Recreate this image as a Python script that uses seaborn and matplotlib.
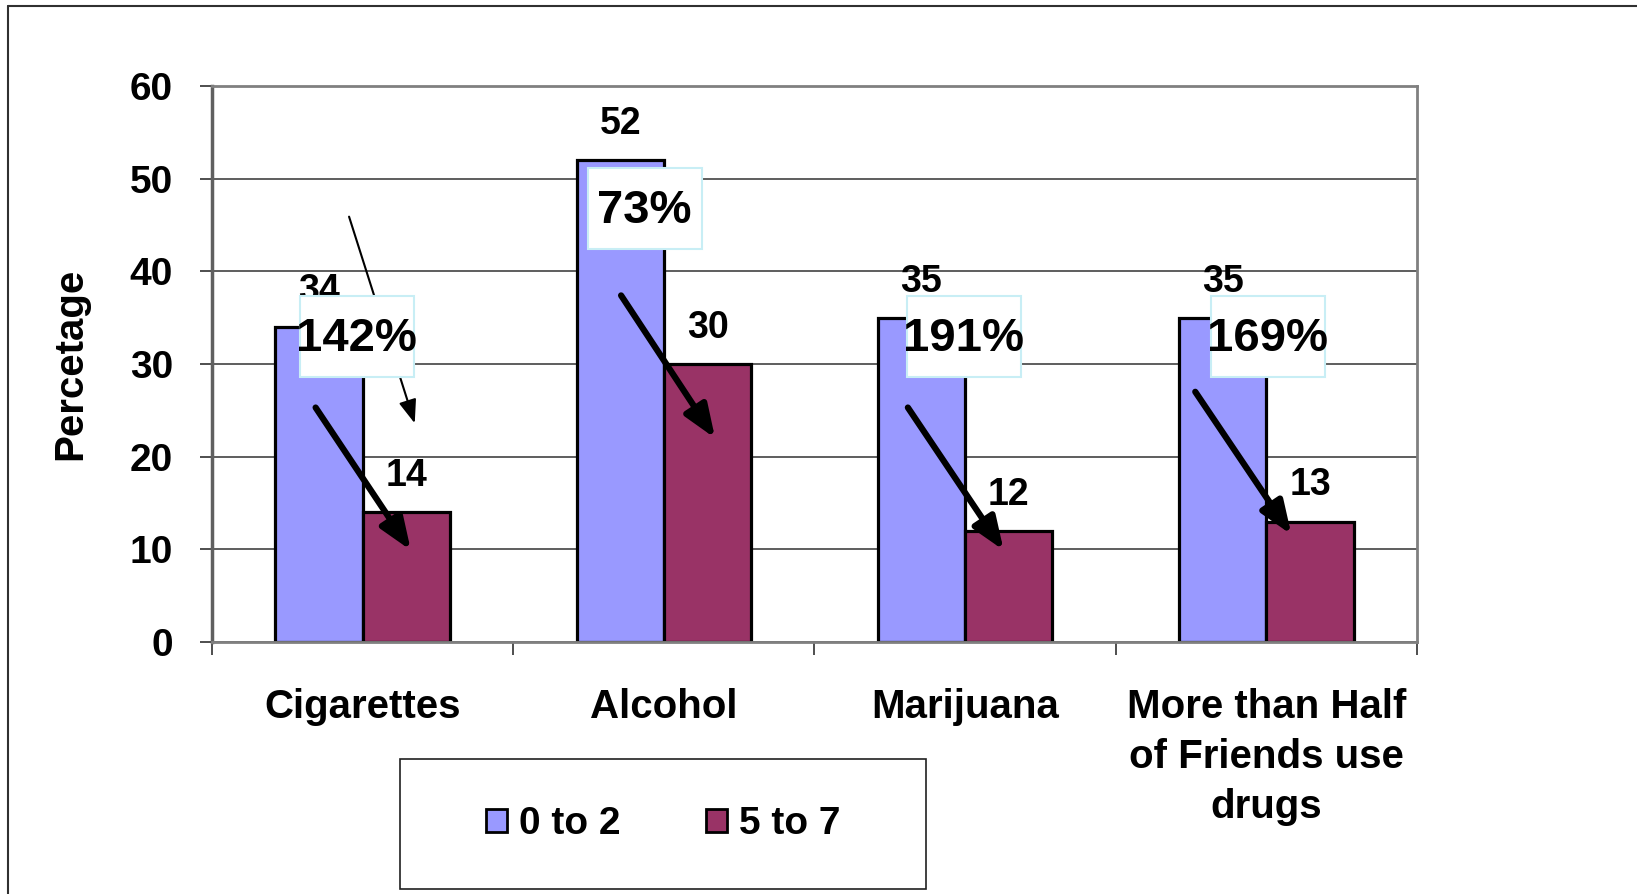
import matplotlib.pyplot as plt
import matplotlib.patches as mpatches
from matplotlib.lines import Line2D
import pandas as pd
import seaborn as sns


CATEGORIES = ["Cigarettes", "Alcohol", "Marijuana", "More than Half\nof Friends use\ndrugs"]
GROUPS = ["0 to 2", "5 to 7"]
LOW_VALUES = [34, 52, 35, 35]
HIGH_VALUES = [14, 30, 12, 13]
PCT_LABELS = ["142%", "73%", "191%", "169%"]
COLORS = ["#9999ff", "#993366"]

# call-out placement: (offset from category centre, y in data units)
PCT_POS = [(-0.02, 33.0), (-0.064, 46.8), (-0.004, 33.0), (0.005, 33.0)]
PCT_BOX = (0.378, 8.7)  # box width (category units), height (data units)
ARROW_START = [(-0.156, 25.3), (-0.142, 37.4), (-0.19, 25.3), (-0.236, 27.0)]
ARROW_END = [(0.16, 9.9), (0.17, 22.0), (0.128, 9.9), (0.083, 11.6)]
THIN_ARROW = [(-0.045, 45.9), (0.173, 23.6)]

FONT = "Liberation Sans"


def main() -> None:
  sns.set_style("white")
  plt.rcParams["font.family"] = [FONT, "DejaVu Sans"]
  plt.rcParams["text.color"] = "black"
  plt.rcParams["axes.labelcolor"] = "black"
  plt.rcParams["xtick.labelcolor"] = "black"
  plt.rcParams["ytick.labelcolor"] = "black"

  df = pd.DataFrame(
    {
      "category": CATEGORIES * 2,
      "group": [GROUPS[0]] * len(CATEGORIES) + [GROUPS[1]] * len(CATEGORIES),
      "value": LOW_VALUES + HIGH_VALUES,
    }
  )

  fig = plt.figure(figsize=(16.37, 8.94), dpi=100)
  ax = fig.add_axes([0.1295, 0.2819, 0.8656 - 0.1295, 0.9038 - 0.2819])

  sns.barplot(
    data=df,
    x="category",
    y="value",
    hue="group",
    order=CATEGORIES,
    hue_order=GROUPS,
    palette=COLORS,
    width=0.58,
    edgecolor="black",
    linewidth=2.3,
    saturation=1,
    legend=False,
    ax=ax,
  )

  for cont in ax.containers:
    ax.bar_label(cont, padding=13, fontsize=27, fontweight="bold", color="black", zorder=4)

  ax.set_ylim(0, 60)
  ax.set_xlim(-0.5, 3.5)
  ax.set_yticks(range(0, 61, 10))
  ax.set_axisbelow(True)
  ax.yaxis.grid(True, color="#505050", linewidth=1.3)
  ax.xaxis.grid(False)
  for side, sp in ax.spines.items():
    sp.set_visible(True)
    sp.set_color("#808080")
    sp.set_linewidth(2)
  ax.spines["left"].set_color("#606060")
  ax.spines["left"].set_linewidth(2.5)

  ax.tick_params(axis="y", direction="out", length=9, width=1.3, color="#404040",
                 labelsize=28, labelcolor="black", pad=19, left=True)
  for lbl in ax.get_yticklabels():
    lbl.set_fontweight("bold")

  ax.set_xticks(range(len(CATEGORIES)))
  ax.set_xticklabels(CATEGORIES, fontsize=29, fontweight="bold", linespacing=1.4,
                     color="black")
  ax.set_xticks([i - 0.5 for i in range(len(CATEGORIES) + 1)], minor=True)
  ax.tick_params(axis="x", which="major", length=0, pad=33)
  ax.tick_params(axis="x", which="minor", direction="out", length=9, width=1.3,
                 color="#404040", bottom=True)

  ax.set_xlabel("")
  ax.set_ylabel("Percetage", fontsize=29, fontweight="bold", labelpad=29, color="black")

  # percentage call-outs and arrows
  bw, bh = PCT_BOX
  for i, (lbl, (dx, y)) in enumerate(zip(PCT_LABELS, PCT_POS)):
    ax.add_patch(mpatches.Rectangle((i + dx - bw / 2, y - bh / 2), bw, bh,
                                    facecolor="white", edgecolor="#c8eef5", lw=1.5,
                                    zorder=5))
    ax.text(i + dx, y - 0.3, lbl, ha="center", va="center", fontsize=34,
            fontweight="bold", color="black", zorder=6)
  for i, ((sx, sy), (ex, ey)) in enumerate(zip(ARROW_START, ARROW_END)):
    ax.annotate("", xy=(i + ex, ey), xytext=(i + sx, sy), zorder=7,
                arrowprops=dict(arrowstyle="-|>,head_length=0.9,head_width=0.35",
                                lw=4.5, color="black", mutation_scale=22,
                                shrinkA=0, shrinkB=0))
  (tsx, tsy), (tex, tey) = THIN_ARROW
  ax.annotate("", xy=(tex, tey), xytext=(tsx, tsy), zorder=4,
              arrowprops=dict(arrowstyle="-|>,head_length=0.8,head_width=0.3",
                              lw=1.5, color="black", mutation_scale=18,
                              shrinkA=0, shrinkB=0))

  # legend in its own box
  fig.add_artist(mpatches.Rectangle((0.2443, 0.0056), 0.3213, 0.1454,
                                    transform=fig.transFigure, fill=False,
                                    edgecolor="#202020", linewidth=1.2))
  handles = [mpatches.Patch(facecolor=c, edgecolor="black", linewidth=2) for c in COLORS]
  leg = fig.legend(handles, GROUPS, loc="center", bbox_to_anchor=(0.405, 0.078), ncol=2,
                   frameon=False, prop={"family": FONT, "size": 28, "weight": "bold"},
                   handlelength=0.55, handleheight=0.55, handletextpad=0.3,
                   columnspacing=2.2)
  for t in leg.get_texts():
    t.set_color("black")

  # outer slide frame
  fig.add_artist(Line2D([8 / 1637, 8 / 1637], [0, 1 - 6 / 894],
                        transform=fig.transFigure, color="#303030", lw=1.5))
  fig.add_artist(Line2D([8 / 1637, 1], [1 - 6 / 894, 1 - 6 / 894],
                        transform=fig.transFigure, color="#303030", lw=1.5))

  fig.savefig("out.png", dpi=100)
  plt.close(fig)


if __name__ == "__main__":
  main()
